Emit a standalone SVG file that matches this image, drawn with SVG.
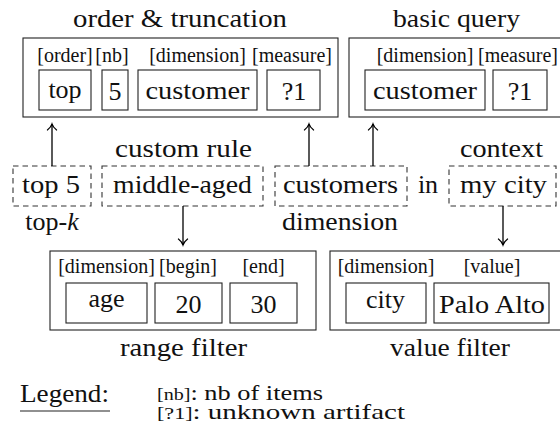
<svg xmlns="http://www.w3.org/2000/svg" width="560" height="439" viewBox="0 0 560 439">
  <style>
    text { font-family: "Liberation Serif", "DejaVu Serif", serif; fill: #111; text-anchor: middle; }
    .m { font-size: 26px; }
    .s { font-size: 20px; }
    .box { fill: none; stroke: #222; stroke-width: 1.1; }
    .dash { fill: none; stroke: #333; stroke-width: 1.1; stroke-dasharray: 5.5 4; }
    .arrow { fill: none; stroke: #000; stroke-width: 1.3; marker-end: url(#to); }
  </style>
  <defs>
    <marker id="to" markerUnits="userSpaceOnUse" viewBox="-7 -6 8 12" markerWidth="8" markerHeight="12" refX="0" refY="0" orient="auto" overflow="visible">
      <path d="M-6,-4.6 C-3.8,-1.8 -1.3,-0.4 0,0 C-1.3,0.4 -3.8,1.8 -6,4.6" fill="none" stroke="#000" stroke-width="1.2" stroke-linecap="round"/>
    </marker>
  </defs>
  <rect width="560" height="439" fill="#fff"/>

  <!-- order & truncation -->
  <g id="order-truncation">
    <text class="m" x="180" y="27" textLength="214" lengthAdjust="spacingAndGlyphs">order &amp; truncation</text>
    <rect class="box" x="23" y="38" width="315" height="79"/>
    <text class="s" x="65" y="62">[order]</text>
    <text class="s" x="112" y="62">[nb]</text>
    <text class="s" x="197.5" y="62">[dimension]</text>
    <text class="s" x="292" y="62">[measure]</text>
    <rect class="box" x="39" y="70" width="52" height="40"/>
    <text class="m" x="65" y="98">top</text>
    <rect class="box" x="102" y="70" width="26" height="40"/>
    <text class="m" x="115" y="100">5</text>
    <rect class="box" x="138" y="70" width="119" height="40"/>
    <text class="m" x="197.5" y="99" textLength="104" lengthAdjust="spacingAndGlyphs">customer</text>
    <rect class="box" x="267" y="70" width="53" height="40"/>
    <text class="m" x="294" y="100">?1</text>
  </g>

  <!-- basic query -->
  <g id="basic-query">
    <text class="m" x="456.5" y="27" textLength="127" lengthAdjust="spacingAndGlyphs">basic query</text>
    <rect class="box" x="349" y="38" width="216" height="79"/>
    <text class="s" x="425" y="62">[dimension]</text>
    <text class="s" x="518" y="62">[measure]</text>
    <rect class="box" x="365" y="70" width="120" height="40"/>
    <text class="m" x="425" y="99" textLength="104" lengthAdjust="spacingAndGlyphs">customer</text>
    <rect class="box" x="493" y="70" width="54" height="40"/>
    <text class="m" x="520" y="100">?1</text>
  </g>

  <!-- phrase fragments -->
  <g id="top5">
    <rect class="dash" x="13" y="166" width="78" height="40"/>
    <text class="m" x="51" y="193" textLength="58" lengthAdjust="spacingAndGlyphs">top 5</text>
    <text class="m" x="52" y="230">top-<tspan font-style="italic">k</tspan></text>
  </g>
  <g id="middle-aged">
    <text class="m" x="183.5" y="157" textLength="137" lengthAdjust="spacingAndGlyphs">custom rule</text>
    <rect class="dash" x="102" y="166" width="161" height="40"/>
    <text class="m" x="182.5" y="193" textLength="139" lengthAdjust="spacingAndGlyphs">middle-aged</text>
  </g>
  <g id="customers">
    <rect class="dash" x="275" y="166" width="132" height="40"/>
    <text class="m" x="340.5" y="193" textLength="115" lengthAdjust="spacingAndGlyphs">customers</text>
    <text class="m" x="340" y="230" textLength="116" lengthAdjust="spacingAndGlyphs">dimension</text>
  </g>
  <g id="in">
    <text class="m" x="428" y="193">in</text>
  </g>
  <g id="my-city">
    <text class="m" x="501.5" y="157" textLength="83" lengthAdjust="spacingAndGlyphs">context</text>
    <rect class="dash" x="449" y="166" width="107" height="40"/>
    <text class="m" x="503.5" y="193" textLength="87" lengthAdjust="spacingAndGlyphs">my city</text>
  </g>

  <!-- range filter -->
  <g id="range-filter">
    <rect class="box" x="50" y="251" width="266" height="79"/>
    <text class="s" x="106.5" y="273">[dimension]</text>
    <text class="s" x="188" y="273">[begin]</text>
    <text class="s" x="263.5" y="273">[end]</text>
    <rect class="box" x="66" y="283" width="81" height="40"/>
    <text class="m" x="106.5" y="307">age</text>
    <rect class="box" x="155" y="283" width="67" height="40"/>
    <text class="m" x="188.5" y="313">20</text>
    <rect class="box" x="230" y="283" width="67" height="40"/>
    <text class="m" x="263.5" y="313">30</text>
    <text class="m" x="183.5" y="356" textLength="127" lengthAdjust="spacingAndGlyphs">range filter</text>
  </g>

  <!-- value filter -->
  <g id="value-filter">
    <rect class="box" x="330" y="251" width="236" height="79"/>
    <text class="s" x="386" y="273">[dimension]</text>
    <text class="s" x="492" y="273">[value]</text>
    <rect class="box" x="346" y="283" width="80" height="40"/>
    <text class="m" x="385.5" y="308">city</text>
    <rect class="box" x="434" y="283" width="115" height="40"/>
    <text class="m" x="492" y="313" textLength="106" lengthAdjust="spacingAndGlyphs">Palo Alto</text>
    <text class="m" x="450" y="356" textLength="120" lengthAdjust="spacingAndGlyphs">value filter</text>
  </g>

  <!-- connectors -->
  <g id="connectors">
    <line class="arrow" x1="52" y1="166" x2="52" y2="124"/>
    <line class="arrow" x1="309" y1="166" x2="309" y2="124"/>
    <line class="arrow" x1="373" y1="166" x2="373" y2="124"/>
    <line class="arrow" x1="183" y1="206" x2="183" y2="245"/>
    <line class="arrow" x1="503" y1="206" x2="503" y2="245"/>
  </g>

  <!-- legend -->
  <g id="legend">
    <text class="m" x="64.5" y="402" textLength="89" lengthAdjust="spacingAndGlyphs">Legend:</text>
    <line x1="20" y1="411" x2="110" y2="411" stroke="#222" stroke-width="1.1"/>
    <text x="157" y="400" font-size="21" style="text-anchor:start" textLength="166" lengthAdjust="spacingAndGlyphs"><tspan font-size="16">[nb]</tspan>: nb of items</text>
    <text x="157" y="419" font-size="21" style="text-anchor:start" textLength="248" lengthAdjust="spacingAndGlyphs"><tspan font-size="16">[?1]</tspan>: unknown artifact</text>
  </g>
</svg>
